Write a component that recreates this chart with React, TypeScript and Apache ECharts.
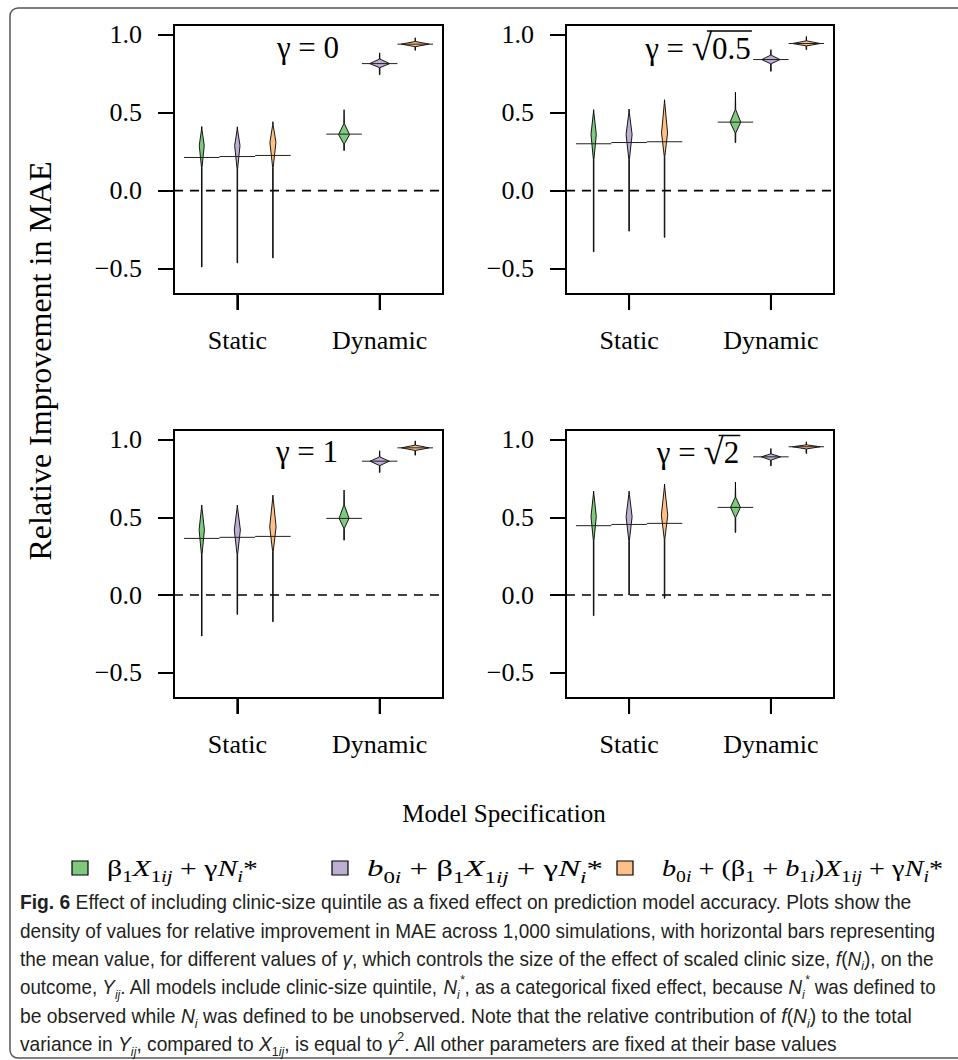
import React, { useEffect, useRef } from 'react';
import * as echarts from 'echarts';

// ---------- data ----------
const groupLabels = ['Static', 'Dynamic'];
const groupTickPositions = [2, 6];
const violinPositions = [1, 2, 3, 5, 6, 7];
const violinModel = [0, 1, 2, 0, 1, 2];
const yTickValues = [-0.5, 0, 0.5, 1];
const gammaRadicand = ['0', '0.5', '1', '2'];
const gammaIsSqrt = [false, true, false, true];

// one row per panel (γ = 0, √0.5, 1, √2); six violins per row
const violinMin = [
  [-0.49, -0.464, -0.432, 0.258, 0.745, 0.902],
  [-0.393, -0.26, -0.3, 0.309, 0.767, 0.906],
  [-0.264, -0.125, -0.172, 0.354, 0.79, 0.902],
  [-0.133, 0.0, -0.021, 0.404, 0.833, 0.913],
];
const violinBodyLow = [
  [0.15, 0.14, 0.15, 0.3, 0.79, 0.925],
  [0.2, 0.2, 0.22, 0.37, 0.815, 0.93],
  [0.26, 0.26, 0.28, 0.43, 0.835, 0.932],
  [0.35, 0.35, 0.36, 0.5, 0.87, 0.942],
];
const violinMode = [
  [0.29, 0.29, 0.31, 0.36, 0.816, 0.941],
  [0.36, 0.36, 0.37, 0.44, 0.842, 0.945],
  [0.42, 0.42, 0.44, 0.494, 0.863, 0.949],
  [0.505, 0.505, 0.515, 0.565, 0.891, 0.956],
];
const violinBodyHigh = [
  [0.39, 0.39, 0.42, 0.43, 0.845, 0.958],
  [0.5, 0.5, 0.56, 0.52, 0.87, 0.962],
  [0.56, 0.56, 0.62, 0.58, 0.89, 0.966],
  [0.65, 0.65, 0.69, 0.63, 0.91, 0.968],
];
const violinMax = [
  [0.412, 0.41, 0.443, 0.52, 0.885, 0.982],
  [0.52, 0.524, 0.584, 0.632, 0.906, 0.99],
  [0.58, 0.58, 0.644, 0.677, 0.93, 0.994],
  [0.67, 0.67, 0.715, 0.728, 0.945, 0.988],
];
const violinPeakDensity = [
  [0.07, 0.075, 0.085, 0.155, 0.28, 0.39],
  [0.075, 0.085, 0.085, 0.15, 0.26, 0.39],
  [0.075, 0.085, 0.09, 0.14, 0.27, 0.39],
  [0.075, 0.085, 0.09, 0.14, 0.27, 0.39],
];
const violinMean = [
  [0.213, 0.219, 0.226, 0.363, 0.816, 0.941],
  [0.301, 0.309, 0.314, 0.44, 0.842, 0.945],
  [0.365, 0.372, 0.378, 0.494, 0.863, 0.949],
  [0.447, 0.455, 0.462, 0.565, 0.891, 0.956],
];

const legendLabels = [
  'β{sn|1}{i|X}{sn|1}{s|ij} + γ{i|N}{s|i}*',
  '{i|b}{sn|0}{s|i} + β{sn|1}{i|X}{sn|1}{s|ij} + γ{i|N}{s|i}*',
  '{i|b}{sn|0}{s|i} + (β{sn|1} + {i|b}{sn|1}{s|i}){i|X}{sn|1}{s|ij} + γ{i|N}{s|i}*',
];

const captionLines = [
  '{b|Fig. 6} Effect of including clinic-size quintile as a fixed effect on prediction model accuracy. Plots show the',
  'density of values for relative improvement in MAE across 1,000 simulations, with horizontal bars representing',
  'the mean value, for different values of {i|γ}, which controls the size of the effect of scaled clinic size, {i|f}({i|N}{sub|i}), on the',
  'outcome, {i|Y}{sub|ij}. All models include clinic-size quintile, {i|N}{sub|i}{sup|*}, as a categorical fixed effect, because {i|N}{sub|i}{sup|*} was defined to',
  'be observed while {i|N}{sub|i} was defined to be unobserved. Note that the relative contribution of {i|f}({i|N}{sub|i}) to the total',
  'variance in {i|Y}{sub|ij}, compared to {i|X}{subn|1}{sub|ij}, is equal to {i|γ}{supn|2}. All other parameters are fixed at their base values',
];

// ---------- styles / layout ----------
const modelColors = ['#7FC97F', '#BEAED4', '#FDC086'];
const SERIF = '"Liberation Serif", "DejaVu Serif", serif';
const SANS = '"Liberation Sans", Arial, sans-serif';
const grids = [
  { left: 174, top: 25, width: 269, height: 269 },
  { left: 566, top: 25, width: 268, height: 269 },
  { left: 174, top: 430, width: 269, height: 268 },
  { left: 566, top: 430, width: 268, height: 268 },
];
const X_MIN = 0.22;
const X_MAX = 7.78;
const Y_MIN = -0.664;
const Y_MAX = 1.064;
const TICK_LEN = 16;

let measureCtx: CanvasRenderingContext2D | null = null;
function measureRich(str: string, baseSize: number, family: string, rich: any, baseStyle = 'normal', baseWeight = 'normal') {
  if (!measureCtx) measureCtx = document.createElement('canvas').getContext('2d');
  const ctx = measureCtx!;
  const re = /\{(\w+)\|([^}]*)\}|([^{]+)/g;
  let m: RegExpExecArray | null;
  let w = 0;
  while ((m = re.exec(str))) {
    const st = m[1] ? rich[m[1]] || {} : {};
    const txt = m[1] ? m[2] : m[3];
    const size = st.fontSize ?? baseSize;
    ctx.font = `${st.fontStyle || baseStyle} ${st.fontWeight || baseWeight} ${size}px ${family}`;
    w += ctx.measureText(txt).width;
  }
  return w;
}

function buildOption() {
  const grid = grids.map((g) => ({ ...g, show: true, borderColor: '#000', borderWidth: 2, backgroundColor: 'transparent', containLabel: false, outerBoundsMode: 'none' }));
  const xAxis = grids.map((_, i) => ({
    gridIndex: i,
    type: 'value',
    position: 'bottom',
    min: X_MIN,
    max: X_MAX,
    axisLine: { show: true, onZero: false, lineStyle: { color: '#000', width: 2 } },
    splitLine: { show: false },
    axisTick: { show: true, customValues: groupTickPositions, length: TICK_LEN, lineStyle: { color: '#000', width: 2 } },
    axisLabel: {
      customValues: groupTickPositions,
      formatter: (v: number) => groupLabels[groupTickPositions.indexOf(v)] ?? '',
      fontSize: 26,
      fontFamily: SERIF,
      color: '#000',
      margin: 33,
    },
  }));
  const yAxis = grids.map((_, i) => ({
    gridIndex: i,
    type: 'value',
    position: 'left',
    min: Y_MIN,
    max: Y_MAX,
    axisLine: { show: false, onZero: false },
    splitLine: { show: false },
    axisTick: { show: true, customValues: yTickValues, length: TICK_LEN, lineStyle: { color: '#000', width: 2 } },
    axisLabel: {
      customValues: yTickValues,
      formatter: (v: number) => (v < 0 ? '\u2212' : '') + Math.abs(v).toFixed(1),
      fontSize: 26,
      fontFamily: SERIF,
      color: '#000',
      margin: 32,
    },
  }));

  const series: any[] = [];
  grids.forEach((_, p) => {
    series.push({
      type: 'line',
      xAxisIndex: p,
      yAxisIndex: p,
      data: [[X_MIN, 0], [X_MAX, 0]],
      symbol: 'none',
      silent: true,
      lineStyle: { color: '#000', width: 1.6, type: [9, 7] },
      z: 1,
    });
    // category ticks below the panel (drawn through the axis scale)
    series.push({
      type: 'custom',
      xAxisIndex: p,
      yAxisIndex: p,
      coordinateSystem: 'cartesian2d',
      silent: true,
      clip: false,
      z: 3,
      encode: { x: 0 },
      data: groupTickPositions.map((v) => [v]),
      renderItem: (params: any, api: any) => {
        const q = api.coord([api.value(0), Y_MIN]);
        return { type: 'line', shape: { x1: q[0], y1: q[1], x2: q[0], y2: q[1] + TICK_LEN }, style: { stroke: '#000', lineWidth: 2 } };
      },
    });
    const data = violinPositions.map((pos, k) => [
      pos,
      violinMin[p][k],
      violinBodyLow[p][k],
      violinMode[p][k],
      violinBodyHigh[p][k],
      violinMax[p][k],
      violinPeakDensity[p][k],
      violinMean[p][k],
      violinModel[k],
    ]);
    series.push({
      type: 'custom',
      xAxisIndex: p,
      yAxisIndex: p,
      coordinateSystem: 'cartesian2d',
      silent: true,
      z: 2,
      encode: { x: 0, y: [1, 5] },
      data,
      renderItem: (params: any, api: any) => {
        const pos = api.value(0);
        const mn = api.value(1);
        const lo = api.value(2);
        const md = api.value(3);
        const hi = api.value(4);
        const mx = api.value(5);
        const w = api.value(6);
        const mean = api.value(7);
        const ci = api.value(8);
        const t = 0.008;
        const pts = [
          [pos + t, mn], [pos + t, lo], [pos + w, md], [pos + t, hi], [pos, mx],
          [pos - t, hi], [pos - w, md], [pos - t, lo], [pos - t, mn],
        ].map((q) => api.coord(q));
        const a = api.coord([pos - 0.5, mean]);
        const b = api.coord([pos + 0.5, mean]);
        return {
          type: 'group',
          children: [
            { type: 'polygon', shape: { points: pts }, style: { fill: modelColors[ci], stroke: '#000', lineWidth: 0.9 } },
            { type: 'line', shape: { x1: a[0], y1: a[1], x2: b[0], y2: b[1] }, style: { stroke: '#222', lineWidth: 1 } },
          ],
        };
      },
    });
  });

  // ---------- graphic annotations ----------
  const graphic: any[] = [];
  graphic.push({ type: 'rect', silent: true, shape: { x: 10, y: 8, width: 1000, height: 1050, r: 8 }, style: { fill: 'none', stroke: '#555', lineWidth: 1.5 } });
  graphic.push({
    type: 'text', silent: true, x: 40, y: 361, rotation: Math.PI / 2,
    style: { text: 'Relative Improvement in MAE', fontSize: 32, fontFamily: SERIF, fill: '#000', align: 'center', verticalAlign: 'middle' },
  });
  graphic.push({
    type: 'text', silent: true, x: 504, y: 813,
    style: { text: 'Model Specification', fontSize: 25, fontFamily: SERIF, fill: '#000', align: 'center', verticalAlign: 'middle' },
  });

  // gamma labels
  const gammaCenters = [[308, 47], [698, 48], [307, 451], [698, 452.5]];
  const gSize = 31;
  const rSize = 37;
  gammaRadicand.forEach((r, p) => {
    const [cx, cy] = gammaCenters[p];
    const pre = 'γ = ';
    const wPre = measureRich(pre, gSize, SERIF, {});
    const wRad = gammaIsSqrt[p] ? measureRich('√', rSize, SERIF, {}) : 0;
    const wVal = measureRich(r, gSize, SERIF, {});
    const left = cx - (wPre + wRad + wVal) / 2;
    graphic.push({
      type: 'text', silent: true, x: left, y: cy,
      style: { text: pre, fontSize: gSize, fontFamily: SERIF, fill: '#000', align: 'left', verticalAlign: 'middle' },
    });
    if (gammaIsSqrt[p]) {
      graphic.push({
        type: 'text', silent: true, x: left + wPre, y: cy - 1,
        style: { text: '√', fontSize: rSize, fontFamily: SERIF, fill: '#000', align: 'left', verticalAlign: 'middle' },
      });
      const yl = cy - 17;
      graphic.push({
        type: 'line', silent: true,
        shape: { x1: left + wPre + wRad * 0.75, y1: yl, x2: left + wPre + wRad + wVal + 1, y2: yl },
        style: { stroke: '#000', lineWidth: 1.5 },
      });
    }
    graphic.push({
      type: 'text', silent: true, x: left + wPre + wRad, y: cy,
      style: { text: r, fontSize: gSize, fontFamily: SERIF, fill: '#000', align: 'left', verticalAlign: 'middle' },
    });
  });

  // legend
  const legendSquareX = [72, 332, 617];
  const legendTextX = [107, 367, 662];
  const legendTextEnd = [258, 603, 943];
  const legendY = 868;
  const lSize = 23;
  const legendRich = {
    i: { fontStyle: 'italic', fontSize: lSize, fontFamily: SERIF, lineHeight: 34 },
    s: { fontStyle: 'italic', fontSize: 16, fontFamily: SERIF, lineHeight: 14, verticalAlign: 'bottom' },
    sn: { fontSize: 16, fontFamily: SERIF, lineHeight: 14, verticalAlign: 'bottom' },
  };
  legendLabels.forEach((lab, k) => {
    graphic.push({
      type: 'rect', silent: true,
      shape: { x: legendSquareX[k], y: legendY - 7, width: 16, height: 14 },
      style: { fill: modelColors[k], stroke: '#000', lineWidth: 1.2 },
    });
    const w = measureRich(lab, lSize, SERIF, legendRich);
    const sx = (legendTextEnd[k] - legendTextX[k]) / w;
    graphic.push({
      type: 'text', silent: true, x: legendTextX[k], y: legendY, scaleX: sx, scaleY: 1,
      style: { text: lab, rich: legendRich, fontSize: lSize, fontFamily: SERIF, lineHeight: 34, fill: '#000', align: 'left', verticalAlign: 'middle' },
    });
  });

  // caption
  const capSize = 20;
  const capRich = {
    b: { fontWeight: 'bold', fontSize: capSize, fontFamily: SANS, lineHeight: 28 },
    i: { fontStyle: 'italic', fontSize: capSize, fontFamily: SANS, lineHeight: 28 },
    sub: { fontStyle: 'italic', fontSize: 13, fontFamily: SANS, lineHeight: 12, verticalAlign: 'bottom' },
    subn: { fontSize: 13, fontFamily: SANS, lineHeight: 12, verticalAlign: 'bottom' },
    sup: { fontStyle: 'italic', fontSize: 13, fontFamily: SANS, lineHeight: 12, verticalAlign: 'top' },
    supn: { fontSize: 13, fontFamily: SANS, lineHeight: 12, verticalAlign: 'top' },
  };
  const capEnds = [912, 936, 934, 936, 912, 838];
  const capX = 20;
  captionLines.forEach((line, k) => {
    const w = measureRich(line, capSize, SANS, capRich);
    const sx = (capEnds[k] - capX) / w;
    graphic.push({
      type: 'text', silent: true, x: capX, y: 902 + k * 28.4, scaleX: sx, scaleY: 1,
      style: { text: line, rich: capRich, fontSize: capSize, fontFamily: SANS, lineHeight: 28, fill: '#231f20', align: 'left', verticalAlign: 'middle' },
    });
  });

  return { animation: false, backgroundColor: '#fff', grid, xAxis, yAxis, series, graphic };
}

export default function App() {
  const ref = useRef<HTMLDivElement>(null);
  useEffect(() => {
    document.body.style.margin = '0';
    const chart = echarts.init(ref.current!, null, { renderer: 'svg' });
    chart.setOption(buildOption() as any);
    return () => chart.dispose();
  }, []);
  return <div ref={ref} style={{ position: 'absolute', left: 0, top: 0, width: 958, height: 1060 }} />;
}
